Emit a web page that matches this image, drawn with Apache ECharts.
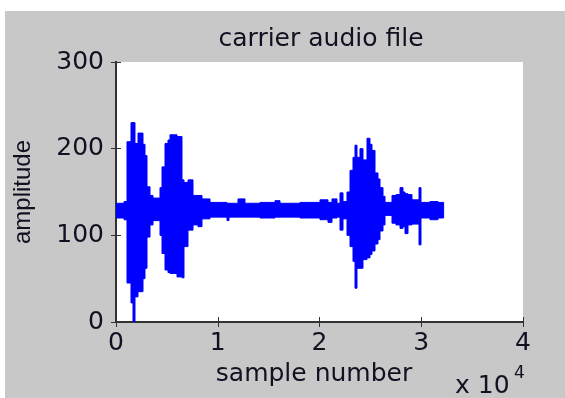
<!DOCTYPE html>
<html>
<head>
<meta charset="utf-8">
<script src="https://cdn.jsdelivr.net/npm/echarts@6/dist/echarts.min.js"></script>
<style>
  html, body { margin: 0; padding: 0; background: #ffffff; }
  #bg { position: absolute; left: 5px; top: 11px; width: 560px; height: 387px; background: #c8c8c8; }
  #chart { position: absolute; left: 0; top: 0; width: 565px; height: 398px; }
</style>
</head>
<body>
<div id="bg"></div>
<div id="chart"></div>
<script>
// Envelope of the audio waveform: each column starts at segX (sample index)
// and runs to the next start; segMax / segMin are the peak amplitudes in it.
const segX = [0, 786, 1081, 1474, 1671, 1867, 2162, 2654, 2850, 3047, 3342, 3636,
  4324, 4521, 4816, 5111, 5307, 5995, 6486, 6683, 7076, 7568, 8059, 8452, 9238,
  10909, 11106, 11990, 12678, 14152, 15627, 16118, 18084, 20049, 20835, 21228,
  21720, 22015, 22310, 22703, 22998, 23292, 23489, 23685, 23980, 24275, 24668,
  24963, 25160, 25455, 25749, 25946, 26241, 26437, 27125, 27518, 27912, 28206,
  28403, 28698, 29091, 29779, 29975, 30860, 31646];
const segMax = [137, 139, 208, 230, 230, 206, 218, 205, 192, 156, 146, 143,
  155, 179, 206, 210, 216, 214, 164, 161, 164, 146, 146, 142, 138,
  137, 137, 142, 137, 138, 140, 137, 138, 141, 138, 142,
  137, 149, 139, 150, 175, 190, 204, 190, 200, 187, 212,
  205, 198, 172, 165, 155, 145, 138, 146, 147, 155, 150,
  148, 147, 141, 155, 138, 139, 138];
const segMin = [120, 118, 45, 22, 0, 29, 35, 50, 62, 98, 112, 117,
  100, 79, 60, 57, 56, 52, 51, 87, 106, 112, 110, 119, 121,
  117, 121, 121, 121, 120, 121, 121, 120, 118, 115, 120,
  121, 106, 119, 100, 87, 70, 39, 62, 62, 72, 74,
  78, 82, 90, 95, 105, 112, 123, 114, 112, 108, 110,
  102, 112, 113, 89, 120, 118, 120];
const lastSample = 32200;

const xTicks = [0, 10000, 20000, 30000, 40000];
const yTicks = [0, 100, 200, 300];

const data = segX.map((x, i) => [x, i + 1 < segX.length ? segX[i + 1] : lastSample, segMax[i], segMin[i]]);

const chart = echarts.init(document.getElementById('chart'), null, { renderer: 'canvas' });
const hFont = 'DejaVu Sans';
const txt = '#111122';
const axisLineStyle = { color: '#333333', width: 2 };
const tickStyle = { show: true, inside: true, length: 5, lineStyle: { color: '#333333', width: 1 } };

const option = {
  animation: false,
  backgroundColor: 'transparent',
  title: {
    text: 'carrier audio file',
    left: 316,
    textAlign: 'center',
    top: 22,
    textStyle: { fontFamily: hFont, fontSize: 25, fontWeight: 'normal', color: txt }
  },
  grid: {
    left: 116, top: 62, width: 407, height: 260,
    show: true, backgroundColor: '#ffffff', borderWidth: 0
  },
  xAxis: [{
    type: 'value', min: xTicks[0], max: xTicks[xTicks.length - 1], interval: 10000,
    position: 'bottom',
    name: 'sample number', nameLocation: 'middle', nameGap: 40,
    nameTextStyle: { fontFamily: hFont, fontSize: 25, color: txt, padding: [0, 11, 0, 0] },
    axisLine: { show: true, lineStyle: axisLineStyle },
    axisTick: tickStyle,
    splitLine: { show: false },
    axisLabel: { margin: 9, fontFamily: hFont, fontSize: 25, color: txt,
      formatter: v => String(v / 10000) }
  }, {
    type: 'value', min: xTicks[0], max: xTicks[xTicks.length - 1], interval: 10000,
    position: 'top',
    axisLine: { show: true, lineStyle: axisLineStyle },
    axisTick: tickStyle,
    splitLine: { show: false },
    axisLabel: { show: false }
  }],
  yAxis: [{
    type: 'value', min: yTicks[0], max: yTicks[yTicks.length - 1], interval: 100,
    position: 'left',
    name: 'amplitude', nameLocation: 'middle', nameGap: 81, nameRotate: 90,
    nameTextStyle: { fontFamily: 'Liberation Sans', fontSize: 24, color: txt },
    axisLine: { show: true, lineStyle: axisLineStyle },
    axisTick: tickStyle,
    splitLine: { show: false },
    axisLabel: { margin: 12, fontFamily: hFont, fontSize: 25, color: txt }
  }, {
    type: 'value', min: yTicks[0], max: yTicks[yTicks.length - 1], interval: 100,
    position: 'right',
    axisLine: { show: true, lineStyle: axisLineStyle },
    axisTick: tickStyle,
    splitLine: { show: false },
    axisLabel: { show: false }
  }],
  graphic: [
    { type: 'text', left: 455, top: 374, style: { text: 'x 10', font: '25px "DejaVu Sans"', fill: txt } },
    { type: 'text', left: 514, top: 365, style: { text: '4', font: '17px "DejaVu Sans"', fill: txt } }
  ],
  series: [{
    type: 'custom',
    xAxisIndex: 0, yAxisIndex: 0,
    clip: true,
    encode: { x: [0, 1], y: [2, 3] },
    renderItem: function (params, api) {
      const p0 = api.coord([api.value(0), api.value(2)]);
      const p1 = api.coord([api.value(1), api.value(3)]);
      return {
        type: 'rect',
        shape: { x: p0[0], y: p0[1], width: Math.max(p1[0] - p0[0], 1), height: p1[1] - p0[1] },
        style: { fill: '#0000ff', stroke: '#0000ff', lineWidth: 1 }
      };
    },
    data: data
  }]
};
chart.setOption(option);
</script>
</body>
</html>
